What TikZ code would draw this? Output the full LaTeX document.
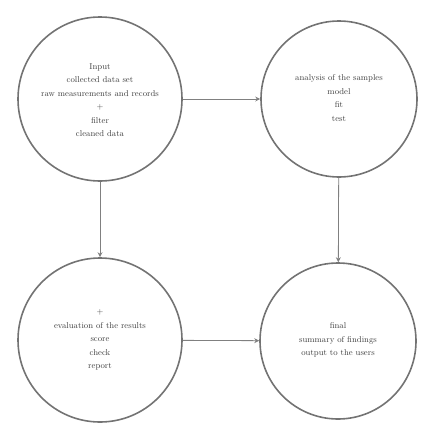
\documentclass[tikz,border=0pt]{standalone}
\usetikzlibrary{arrows.meta}
\tikzset{
  stage/.style={circle, draw=black!55, line width=1.6pt, minimum size=164pt, inner sep=0pt},
  txt/.style={align=center, font=\fontsize{8.5}{13.5}\selectfont, text=black!75},
  link/.style={draw=black!50, line width=0.8pt, -{Stealth[length=5pt,width=5pt]}}
}
\begin{document}
\begin{tikzpicture}[x=1pt,y=-1pt]
\useasboundingbox (0,0) rectangle (425,423);
\node[stage] (tl) at (100,99) {};
\node[stage, minimum size=156pt] (tr) at (339,99) {};
\node[stage] (bl) at (100,340) {};
\node[stage, minimum size=156pt] (br) at (338,341) {};
\node[txt] (tltext) at (100,100) {Input\\collected data set\\raw measurements and records\\+\\filter\\cleaned data};
\node[txt] (trtext) at (339,98) {analysis of the samples\\model\\fit\\test};
\node[txt] (bltext) at (100,340) {+\\evaluation of the results\\score\\check\\report};
\node[txt] (brtext) at (338,340) {final\\summary of findings\\output to the users};
\draw[link] (tl) -- (tr);
\draw[link] (tr) -- (br);
\draw[link] (bl) -- (br);
\draw[link] (tl) -- (bl);
\end{tikzpicture}
\end{document}
